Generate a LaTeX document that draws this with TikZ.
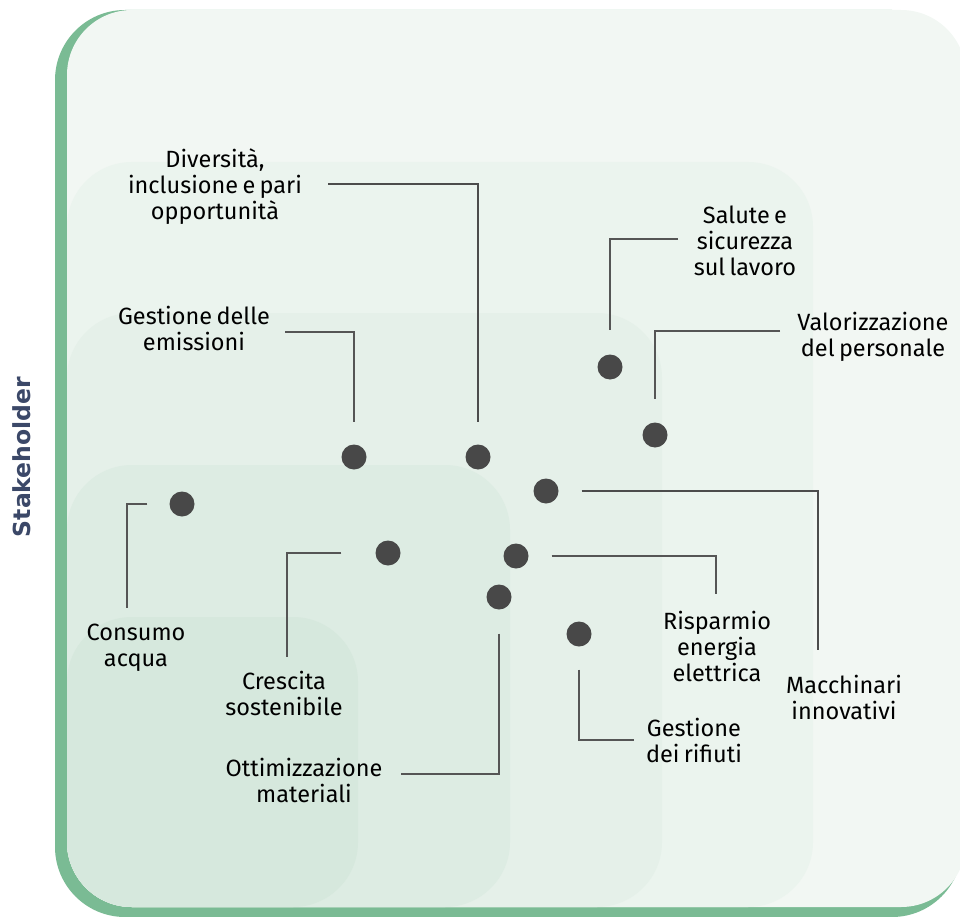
\documentclass[tikz,border=0pt]{standalone}
\usepackage{fontspec}
\setmainfont{Fira Sans}[WordSpace=0.7]
\newfontfamily\stakefont{DejaVu Sans}
\definecolor{shadowgreen}{HTML}{7ABB94}
\definecolor{lvA}{HTML}{F2F7F3}
\definecolor{lvB}{HTML}{EBF4EE}
\definecolor{lvC}{HTML}{E5F0E9}
\definecolor{lvD}{HTML}{DDECE3}
\definecolor{lvE}{HTML}{D6E8DD}
\definecolor{dotgray}{HTML}{484848}
\definecolor{linegray}{HTML}{555555}
\definecolor{stake}{HTML}{3B4868}
\tikzset{
  dotnode/.style={circle, fill=dotgray, minimum size=25pt, inner sep=0pt},
  lbl/.style={align=center, inner sep=0pt, text=black, font=\fontsize{23.5}{26}\selectfont},
  thinline/.style={draw=linegray, line width=1.2pt},
  thickline/.style={draw=linegray!90!black, line width=2pt},
  panel/.style={rounded corners=65pt}
}
\begin{document}
\begin{tikzpicture}[x=1pt,y=-1pt]
\useasboundingbox (0,0) rectangle (960,917);
\begin{scope}
\clip (0,0) rectangle (960,917);
\fill[shadowgreen, rounded corners=70pt] (55,10) rectangle (962,917);
\fill[lvA, panel] (67,10) rectangle (966,907);
\fill[lvB, panel] (67,162) rectangle (813,907);
\fill[lvC, panel] (67,313) rectangle (662,907);
\fill[lvD, panel] (67,465) rectangle (510,907);
\fill[lvE, panel] (67,617) rectangle (358,907);
\end{scope}

% stakeholder axis label
\node[rotate=90, inner sep=0pt, text=stake, font=\stakefont\bfseries\fontsize{23.5}{27}\selectfont] (stk) at (22,457) {Stakeholder};

% dots
\node[dotnode] (dDiv) at (478,457) {};
\node[dotnode] (dEmi) at (354,457) {};
\node[dotnode] (dSal) at (610,367) {};
\node[dotnode] (dVal) at (655,435) {};
\node[dotnode] (dMac) at (546,491) {};
\node[dotnode] (dRis) at (516,556) {};
\node[dotnode] (dRif) at (579,634) {};
\node[dotnode] (dOtt) at (499,597) {};
\node[dotnode] (dCre) at (388,553) {};
\node[dotnode] (dCon) at (182,504) {};

% labels
\node[lbl] (lDiv) at (215,187) {Diversità,\\inclusione e pari\\opportunità};
\node[lbl] (lEmi) at (194,328) {Gestione delle\\emissioni};
\node[lbl] (lSal) at (745,241) {Salute e\\sicurezza\\sul lavoro};
\node[lbl] (lVal) at (873,337) {Valorizzazione\\del personale};
\node[lbl] (lCon) at (136,648) {Consumo\\acqua};
\node[lbl] (lCre) at (284,693) {Crescita\\sostenibile};
\node[lbl] (lOtt) at (304,780) {Ottimizzazione\\materiali};
\node[lbl] (lRis) at (717,646) {Risparmio\\energia\\elettrica};
\node[lbl] (lMac) at (844,697) {Macchinari\\innovativi};
\node[lbl] (lRif) at (694,740) {Gestione\\dei rifiuti};

% free ends of connectors
\coordinate (cDiv) at (328,184);
\coordinate (cEmi) at (285,332);
\coordinate (cSal) at (678,239);
\coordinate (cVal) at (780,331);
\coordinate (cMac) at (818,650);
\coordinate (cRis) at (716,594);
\coordinate (cRif) at (634,740);
\coordinate (cOtt) at (401,774);
\coordinate (cCre) at (287,657);
\coordinate (cCon) at (127,608);

% connectors
\draw[thickline, shorten >=22pt] (cDiv) -| (dDiv);
\draw[thinline, shorten >=22pt] (cEmi) -| (dEmi);
\draw[thinline, shorten >=24pt] (cSal) -| (dSal);
\draw[thinline, shorten >=23pt] (cVal) -| (dVal);
\draw[thickline, shorten <=23pt] (dMac) -| (cMac);
\draw[thinline, shorten <=23pt] (dRis) -| (cRis);
\draw[thinline, shorten <=23pt] (dRif) |- (cRif);
\draw[thinline, shorten <=24pt] (dOtt) |- (cOtt);
\draw[thinline, shorten <=34pt] (dCre) -| (cCre);
\draw[thinline, shorten <=22pt] (dCon) -| (cCon);
\end{tikzpicture}
\end{document}
